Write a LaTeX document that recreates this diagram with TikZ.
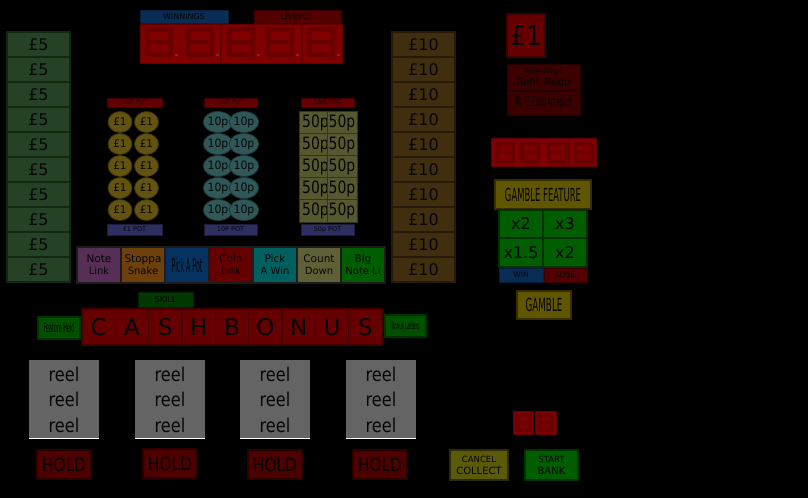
\documentclass[tikz,border=0pt]{standalone}
\usepackage{fontspec}
\setmainfont{DejaVu Sans}
\usetikzlibrary{shapes.geometric}
\definecolor{bgk}{RGB}{0,0,0}
\definecolor{cfive}{RGB}{38,66,38}
\definecolor{cfiveb}{RGB}{20,38,20}
\definecolor{cten}{RGB}{64,46,14}
\definecolor{ctenb}{RGB}{38,27,8}
\definecolor{cblue}{RGB}{8,44,84}
\definecolor{cdred}{RGB}{84,0,0}
\definecolor{cred}{RGB}{102,0,0}
\definecolor{credb}{RGB}{62,0,0}
\definecolor{cdisp}{RGB}{128,0,0}
\definecolor{cseg}{RGB}{104,0,0}
\definecolor{cdot}{RGB}{150,30,30}
\definecolor{cgold}{RGB}{98,84,16}
\definecolor{cteal}{RGB}{48,88,88}
\definecolor{colive}{RGB}{88,88,48}
\definecolor{cpot}{RGB}{46,46,96}
\definecolor{cwarn}{RGB}{60,0,0}
\definecolor{cgam}{RGB}{96,86,0}
\definecolor{cgreen}{RGB}{0,94,0}
\definecolor{cgreenb}{RGB}{0,50,0}
\definecolor{cskill}{RGB}{0,56,0}
\definecolor{cpurp}{RGB}{86,46,86}
\definecolor{corange}{RGB}{110,64,14}
\definecolor{cpblue}{RGB}{6,50,96}
\definecolor{ccyan}{RGB}{0,96,96}
\definecolor{ccount}{RGB}{96,96,56}
\definecolor{cgray}{RGB}{100,100,100}
\definecolor{chold}{RGB}{76,0,0}
\definecolor{choldb}{RGB}{44,0,0}
\definecolor{ccancel}{RGB}{90,90,8}
\definecolor{cframe}{RGB}{28,28,28}
\definecolor{ctext}{RGB}{6,6,6}
\newcommand\fs[2]{\fontsize{#1}{#2}\selectfont}
\newcommand\bx[7]{\node[#6,minimum width={(#4)-(#2)},minimum height={(#5)-(#3)}] (#1) at ({((#2)+(#4))/2},{((#3)+(#5))/2}) {#7};}
\newcommand\sevseg[5]{\fill[cseg,even odd rule] (#1,#2) rectangle ({#1+#3},{#2+#4}) ({#1+#5},{#2+#5}) rectangle ({#1+#3-#5},{#2+#4/2-#5/2}) ({#1+#5},{#2+#4/2+#5/2}) rectangle ({#1+#3-#5},{#2+#4-#5});}
\tikzset{
  box/.style={draw, line width=1.2pt, inner sep=0pt, align=center, text=ctext},
  five/.style={box, fill=cfive, draw=cfiveb},
  ten/.style={box, fill=cten, draw=ctenb},
  bluelab/.style={box, fill=cblue, draw=cblue!70!black, line width=0.8pt},
  redlab/.style={box, fill=cdred, draw=cdred!70!black, line width=0.8pt},
  disp/.style={box, fill=cdisp, draw=cdisp!75!black, line width=0.8pt},
  potred/.style={box, fill=cred, draw=credb, line width=0.8pt},
  potlab/.style={box, fill=cpot, draw=cpot!60!black, line width=0.8pt},
  coinone/.style={ellipse, draw=cgold!60!black, fill=cgold, line width=0.8pt, inner sep=0pt, minimum width=24, minimum height=21, text=ctext},
  cointen/.style={ellipse, draw=cteal!60!black, fill=cteal, line width=0.8pt, inner sep=0pt, minimum width=24, minimum height=21, text=ctext},
  fifty/.style={box, fill=colive, draw=colive!60!black, line width=0.8pt},
  bigred/.style={box, fill=cred, draw=credb},
  warn/.style={box, fill=cwarn, draw=cwarn!60!black, line width=0.8pt},
  gam/.style={box, fill=cgam, draw=cgam!55!black, line width=1.4pt},
  ggrid/.style={box, fill=cgreen, draw=cgreenb, line width=1.4pt},
  feat/.style={box, draw=cframe, line width=1.6pt},
  skill/.style={box, fill=cskill, draw=cskill!60!black, line width=1pt},
  held/.style={box, fill=cgreen!85!black, draw=cgreenb, line width=1.2pt},
  cash/.style={box, fill=cred, draw=credb, line width=1.6pt},
  reel/.style={box, fill=cgray, draw=none},
  hold/.style={box, fill=chold, draw=choldb, line width=1.6pt},
  cancel/.style={box, fill=ccancel, draw=ccancel!50!black, line width=1.4pt},
  startb/.style={box, fill=cgreen, draw=cgreenb, line width=1.4pt},
}
\begin{document}
\begin{tikzpicture}[x=1pt,y=-1pt]
\useasboundingbox (0,0) rectangle (808,498);
\fill[bgk] (0,0) rectangle (808,498);
% left and right note columns
\foreach \i in {0,...,9}{
  \bx{five\i}{7}{32+25*\i}{70}{57+25*\i}{five}{\fs{16}{18}£5}
  \bx{ten\i}{392}{32+25*\i}{455}{57+25*\i}{ten}{\fs{16}{18}£10}
}
% top display
\bx{winlab}{140}{10}{228}{23}{bluelab}{\fs{8}{9}WINNINGS}
\bx{livelab}{254}{10}{341}{23}{redlab}{\fs{8}{9}LIVEPOT}
\bx{dispA}{140}{24}{220}{63}{disp}{}
\bx{dispB}{221}{24}{301}{63}{disp}{}
\bx{dispC}{302}{24}{342}{63}{disp}{}
\foreach \x in {145,186,227,266,307}{
  \sevseg{\x}{27}{28}{30}{4.5}
  \fill[cdot] ({\x+30},54) rectangle ({\x+33},56);
}
% live pot labels
\bx{lpA}{107}{98}{162}{107}{potred}{\scalebox{0.9}[1]{\fs{6.5}{7}LIVE POT}}
\bx{lpB}{204}{98}{257}{107}{potred}{\scalebox{0.9}[1]{\fs{6.5}{7}LIVE POT}}
\bx{lpC}{301}{98}{354}{107}{potred}{\scalebox{0.9}[1]{\fs{6.5}{7}LIVE POT}}
% coins
\foreach \r in {0,...,4}{
  \node[coinone] (ca\r) at (120,{122+22*\r}) {\fs{10.5}{12}£1};
  \node[coinone] (cb\r) at (146.5,{122+22*\r}) {\fs{10.5}{12}£1};
  \node[cointen] (cc\r) at (218,{122+22*\r}) {\scalebox{0.95}[1]{\fs{11.5}{12}10p}};
  \node[cointen] (cd\r) at (244,{122+22*\r}) {\scalebox{0.95}[1]{\fs{11.5}{12}10p}};
}
% 50p grid
\bx{fiftyall}{299}{111}{357}{222}{fifty}{}
\foreach \r in {0,...,4}{
  \bx{fl\r}{299}{111+22.2*\r}{327}{133.2+22.2*\r}{fifty}{}
  \bx{fr\r}{327}{111+22.2*\r}{357}{133.2+22.2*\r}{fifty}{}
  \begin{scope}
    \clip (299,{111+22.2*\r}) rectangle (326.4,{133.2+22.2*\r});
    \node[anchor=west, inner sep=0pt, text=ctext] (tl\r) at (302,{122.6+22.2*\r}) {\scalebox{0.82}[1]{\fs{17}{18}50p}};
  \end{scope}
  \begin{scope}
    \clip (327,{111+22.2*\r}) rectangle (357,{133.2+22.2*\r});
    \node[anchor=west, inner sep=0pt, text=ctext] (tr\r) at (328.5,{122.6+22.2*\r}) {\scalebox{0.82}[1]{\fs{17}{18}50p}};
  \end{scope}
}
% pot labels
\bx{potA}{107}{224}{162}{235}{potlab}{\fs{6.5}{7}£1 POT}
\bx{potB}{204}{224}{257}{235}{potlab}{\fs{6.5}{7}10P POT}
\bx{potC}{301}{224}{354}{235}{potlab}{\fs{6.5}{7}50p POT}
% right top
\bx{pound}{507}{14}{545}{57}{bigred}{\scalebox{0.9}[1]{\fs{27}{28}£1}}
\bx{warnA}{507}{64}{580}{90}{warn}{\fs{8}{9.5}Warning!\\Refil\ \ Requ}
\bx{warnB}{507}{91}{580}{115}{warn}{\scalebox{0.36}[1]{\fs{14}{15}No £1 Coins Accepted}}
\bx{rdA}{491}{138}{568}{166}{disp}{}
\bx{rdB}{569}{138}{596}{166}{disp}{}
\foreach \x in {495,520,547,574}{ \sevseg{\x}{142}{20}{21}{3.5} }
% gamble
\bx{gfeat}{495}{180}{591}{209}{gam}{\scalebox{0.47}[1]{\fs{18}{19}GAMBLE FEATURE}}
\bx{gA}{499}{210}{543}{238}{ggrid}{\fs{16}{17}x2}
\bx{gB}{543}{210}{587}{238}{ggrid}{\fs{16}{17}x3}
\bx{gC}{499}{238}{543}{267}{ggrid}{\fs{16}{17}x1.5}
\bx{gD}{543}{238}{587}{267}{ggrid}{\fs{16}{17}x2}
\bx{gwin}{499}{268}{543}{282}{bluelab}{\fs{7.5}{8}WIN}
\bx{glose}{544}{268}{587}{282}{redlab}{\fs{7.5}{8}LOSE}
\bx{gamble}{517}{291}{571}{319}{gam}{\scalebox{0.49}[1]{\fs{18}{19}GAMBLE}}
% feature row
\bx{fNote}{77}{247}{121}{283}{feat,fill=cpurp}{\fs{10.5}{15}Note\\Link}
\bx{fStop}{121}{247}{165}{283}{feat,fill=corange}{\fs{10.5}{15}Stoppa\\Snake}
\bx{fPot}{165}{247}{209}{283}{feat,fill=cpblue}{\scalebox{0.33}[1]{\fs{19}{20}Pick A Pot}}
\bx{fCoin}{209}{247}{253}{283}{feat,fill=cred}{\fs{10.5}{15}Coin\\Link}
\bx{fWin}{253}{247}{297}{283}{feat,fill=ccyan}{\fs{10.5}{15}Pick\\A Win}
\bx{fCount}{297}{247}{341}{283}{feat,fill=ccount}{\fs{10.5}{15}Count\\Down}
\bx{fBig}{341}{247}{385}{283}{feat,fill=cgreen}{\fs{10.5}{15}Big\\Note Li}
% skill and cash bonus
\bx{skill}{138}{292}{193}{307}{skill}{\fs{8}{9}SKILL}
\bx{fheld}{38}{317}{80}{339}{held}{\scalebox{0.37}[1]{\fs{13}{14}Feature Held}}
\bx{bletters}{385}{315}{426}{337}{held}{\scalebox{0.4}[1]{\fs{10}{11}Bonus Letters}}
\foreach \l [count=\k from 0] in {C,A,S,H,B,O,N,U,S}{
  \bx{cash\k}{82+33.33*\k}{309}{115.33+33.33*\k}{345}{cash}{\fs{23}{24}\l}
}
% reels and holds
\foreach \x [count=\k] in {29,135,240,346}{
  \bx{reel\k}{\x}{360}{\x+70}{438}{reel}{}
  \node[inner sep=0pt, text=ctext] (rA\k) at ({\x+35},374.5) {\scalebox{0.85}[1]{\fs{19}{20}reel}};
  \node[inner sep=0pt, text=ctext] (rB\k) at ({\x+35},399.5) {\scalebox{0.85}[1]{\fs{19}{20}reel}};
  \node[inner sep=0pt, text=ctext] (rC\k) at ({\x+35},425.5) {\scalebox{0.85}[1]{\fs{19}{20}reel}};
  \draw[white, line width=1.4pt] (\x,438.5) -- ({\x+70},438.5);
}
\bx{holdA}{37}{450}{91}{479}{hold}{\scalebox{0.85}[1]{\fs{18}{19}HOLD}}
\bx{holdB}{143}{449}{197}{478}{hold}{\scalebox{0.85}[1]{\fs{18}{19}HOLD}}
\bx{holdC}{248}{450}{302}{479}{hold}{\scalebox{0.85}[1]{\fs{18}{19}HOLD}}
\bx{holdD}{353}{450}{407}{479}{hold}{\scalebox{0.85}[1]{\fs{18}{19}HOLD}}
% bottom right
\bx{sdA}{513}{411}{533}{434}{disp}{}
\bx{sdB}{535}{411}{556}{434}{disp}{}
\sevseg{516}{413}{16}{19}{3.5}
\sevseg{537}{413}{16}{19}{3.5}
\bx{cancel}{450}{450}{508}{480}{cancel}{\fs{8.5}{11}CANCEL\\COLLECT}
\bx{start}{525}{450}{578}{480}{startb}{\fs{8.5}{11}START\\BANK}
\end{tikzpicture}
\end{document}
